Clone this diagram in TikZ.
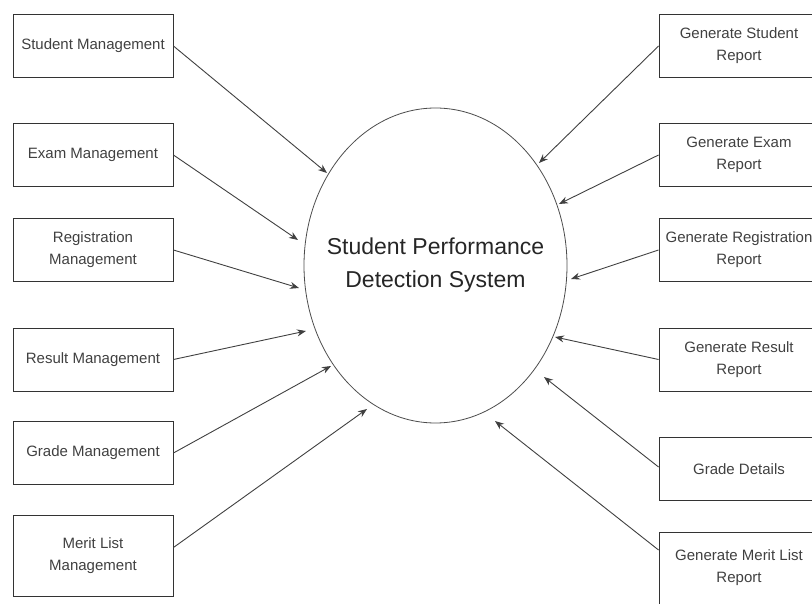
\documentclass[tikz,border=0pt]{standalone}
\usepackage{fontspec}
\setmainfont{Liberation Sans}
\usetikzlibrary{arrows.meta,shapes.geometric}
\tikzset{
  box/.style={draw=black!80, line width=0.9pt, minimum width=160pt, minimum height=63pt,
    inner sep=2pt, align=center, text=black!75, font=\fontsize{15}{22}\selectfont},
  sys/.style={ellipse, draw=black!70, line width=0.8pt, inner sep=0pt,
    minimum width=263pt, minimum height=315pt},
  title/.style={align=center, text=black!85, font=\fontsize{23}{33}\selectfont},
  flow/.style={draw=black!75, line width=0.9pt, -{Stealth[length=9pt,width=7pt]}}
}
\begin{document}
\begin{tikzpicture}[x=1pt,y=-1pt]
      \useasboundingbox (0,0) rectangle (812,604);
      \draw
        (93,46) node[box] (m1){Student Management}
        (93,155) node[box] (m2){Exam Management}
        (93,250) node[box] (m3){Registration\\Management}
        (93,359.5) node[box] (m4){Result Management}
        (93,453) node[box] (m5){Grade Management}
        (93,555.5) node[box, minimum height=81pt] (m6){Merit List\\Management}
        (739,46) node[box] (g1){Generate Student\\Report}
        (739,155) node[box] (g2){Generate Exam\\Report}
        (739,250) node[box] (g3){Generate Registration\\Report}
        (739,359.5) node[box] (g4){Generate Result\\Report}
        (739,469) node[box] (g5){Grade Details}
        (739,568) node[box, minimum height=72pt] (g6){Generate Merit List\\Report};
      \node[sys] (sys) at (435.5,265.5) {};
      \node[title] (name) at (sys.center) {Student Performance\\Detection System};
      \coordinate (a1) at (327,173);
      \coordinate (a2) at (298,240);
      \coordinate (a3) at (299,288);
      \coordinate (a4) at (306,331);
      \coordinate (a5) at (331,366);
      \coordinate (a6) at (367,409);
      \coordinate (b1) at (539,163);
      \coordinate (b2) at (559,204);
      \coordinate (b3) at (571,279);
      \coordinate (b4) at (555,337);
      \coordinate (b5) at (544,377);
      \coordinate (b6) at (495,421);
      \begin{scope}[flow]
        \draw (m1.east) to (a1);
        \draw (m2.east) to (a2);
        \draw (m3.east) to (a3);
        \draw (m4.east) to (a4);
        \draw (m5.east) to (a5);
        \draw ([yshift=8pt]m6.east) to (a6);
        \draw (g1.west) to (b1);
        \draw (g2.west) to (b2);
        \draw (g3.west) to (b3);
        \draw (g4.west) to (b4);
        \draw ([yshift=2pt]g5.west) to (b5);
        \draw ([yshift=18pt]g6.west) to (b6);
      \end{scope}
    \end{tikzpicture}
\end{document}
